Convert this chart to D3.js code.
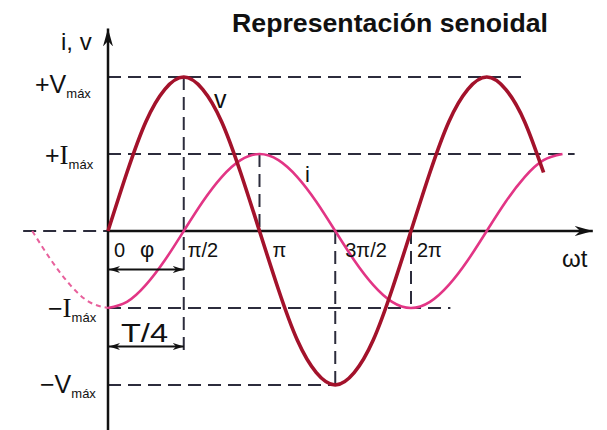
<!DOCTYPE html>
<html>
<head>
<meta charset="utf-8">
<script src="https://cdn.jsdelivr.net/npm/d3@7"></script>
<style>
  body { margin: 0; background: #fff; }
  svg { display: block; }
  text { font-family: "Liberation Sans", Arial, sans-serif; fill: #111; }
</style>
</head>
<body>
<div id="chart"></div>
<script>
// phase in multiples of pi, amplitude in units of Vmax
var vPhase = [0, 0.125, 0.25, 0.375, 0.5, 0.625, 0.75, 0.875, 1, 1.125, 1.25, 1.375,
  1.5, 1.625, 1.75, 1.875, 2, 2.125, 2.25, 2.375, 2.5, 2.625, 2.75, 2.875];
var vValues = [0, 0.38, 0.71, 0.92, 1, 0.92, 0.71, 0.38, 0, -0.38, -0.71, -0.92,
  -1, -0.92, -0.71, -0.38, 0, 0.38, 0.71, 0.92, 1, 0.92, 0.71, 0.38];

var iPhase = [0, 0.125, 0.25, 0.375, 0.5, 0.625, 0.75, 0.875, 1, 1.125, 1.25, 1.375,
  1.5, 1.625, 1.75, 1.875, 2, 2.125, 2.25, 2.375, 2.5, 2.625, 2.75, 2.875, 3];
var iValues = [-0.5, -0.46, -0.35, -0.19, 0, 0.19, 0.35, 0.46, 0.5, 0.46, 0.35, 0.19,
  0, -0.19, -0.35, -0.46, -0.5, -0.46, -0.35, -0.19, 0, 0.19, 0.35, 0.46, 0.5];

// current before t = 0 (dashed)
var iPrePhase = [-0.5, -0.375, -0.25, -0.125, 0];
var iPreValues = [0, -0.19, -0.35, -0.46, -0.5];

// horizontal guides: level and where they end (phase)
var hLevels = [1, 0.5, -0.5, -1];
var hEnds = [2.75, 3.08, 2.26, 1.5];

// vertical guides: phase, from level, to level
var vGuidePhase = [0.5, 1, 1.5, 2];
var vGuideFrom = [1, 0.5, 0, 0];
var vGuideTo = [-0.8, 0, -1, -0.5];

var tickLabels = ["0", "\u03c0/2", "\u03c0", "3\u03c0/2", "2\u03c0"];
var tickPhase = [0, 0.5, 1, 1.5, 2];

var levelMain = ["+V", "+I", "\u2212I", "\u2212V"];
var levelValues = [1, 0.5, -0.5, -1];

var margin = { top: 0, right: 0, bottom: 0, left: 0 };
var width = 607, height = 430;

var svg = d3.select("#chart").append("svg")
  .attr("width", width)
  .attr("height", height);

var defs = svg.append("defs");
function marker(id, len, half) {
  defs.append("marker")
    .attr("id", id)
    .attr("viewBox", "0 0 " + len + " " + (half * 2))
    .attr("refX", len).attr("refY", half)
    .attr("markerWidth", len).attr("markerHeight", half * 2)
    .attr("markerUnits", "userSpaceOnUse")
    .attr("orient", "auto-start-reverse")
    .append("path")
    .attr("d", "M0,0L" + len + "," + half + "L0," + (half * 2) + "L" + (len * 0.3) + "," + half + "Z")
    .attr("fill", "#111");
}
marker("axisArrow", 18, 5);
marker("smallArrow", 11, 3.5);

var x = d3.scaleLinear().domain([0, 2]).range([108, 411]);
var y = d3.scaleLinear().domain([-1, 1]).range([385, 77]);

var guideColor = "#2c2c3c";

// zero line dashed to the left
svg.append("line")
  .attr("x1", x(-0.56)).attr("x2", x(0))
  .attr("y1", y(0)).attr("y2", y(0))
  .attr("stroke", guideColor).attr("stroke-width", 2)
  .attr("stroke-dasharray", "13,7");

// horizontal guides
svg.selectAll(".hguide").data(hLevels).join("line")
  .attr("class", "hguide")
  .attr("x1", x(0)).attr("x2", (d, i) => x(hEnds[i]))
  .attr("y1", d => y(d)).attr("y2", d => y(d))
  .attr("stroke", guideColor).attr("stroke-width", 2)
  .attr("stroke-dasharray", "13,7");

// vertical guides
svg.selectAll(".vguide").data(vGuidePhase).join("line")
  .attr("class", "vguide")
  .attr("x1", d => x(d)).attr("x2", d => x(d))
  .attr("y1", (d, i) => y(vGuideFrom[i])).attr("y2", (d, i) => y(vGuideTo[i]))
  .attr("stroke", guideColor).attr("stroke-width", 2)
  .attr("stroke-dasharray", "13,7");

// axes
svg.append("line")
  .attr("x1", x(0)).attr("x2", x(3.2))
  .attr("y1", y(0)).attr("y2", y(0))
  .attr("stroke", "#111").attr("stroke-width", 2.5)
  .attr("marker-end", "url(#axisArrow)");
svg.append("line")
  .attr("x1", x(0)).attr("x2", x(0))
  .attr("y1", y(-1.3)).attr("y2", y(1.315))
  .attr("stroke", "#111").attr("stroke-width", 2.5)
  .attr("marker-end", "url(#axisArrow)");

// curves
var line = d3.line().curve(d3.curveNatural);

svg.append("path")
  .datum(iPrePhase.map((p, k) => [x(p), y(iPreValues[k])]))
  .attr("d", line)
  .attr("fill", "none").attr("stroke", "#e8609c").attr("stroke-width", 2)
  .attr("stroke-dasharray", "5,4");

svg.append("path")
  .datum(iPhase.map((p, k) => [x(p), y(iValues[k])]))
  .attr("d", line)
  .attr("fill", "none").attr("stroke", "#e23585").attr("stroke-width", 2.6);

svg.append("path")
  .datum(vPhase.map((p, k) => [x(p), y(vValues[k])]))
  .attr("d", line)
  .attr("fill", "none").attr("stroke", "#a3122b").attr("stroke-width", 3.6);

// phi and T/4 arrows
[y(-0.25), y(-0.75)].forEach(function (yy) {
  svg.append("line")
    .attr("x1", x(0) + 1).attr("x2", x(0.5))
    .attr("y1", yy).attr("y2", yy)
    .attr("stroke", "#111").attr("stroke-width", 1.8)
    .attr("marker-start", "url(#smallArrow)")
    .attr("marker-end", "url(#smallArrow)");
});

// tick labels on the wt axis
var tickDx = [6, 4, 13, 10, 6];
svg.selectAll(".tick-label").data(tickLabels).join("text")
  .attr("class", "tick-label")
  .attr("x", (d, i) => x(tickPhase[i]) + tickDx[i])
  .attr("y", y(0) + 26)
  .attr("font-size", 20)
  .text(d => d);

svg.append("text")
  .attr("x", 140).attr("y", y(0) + 26)
  .attr("font-size", 22)
  .text("\u03c6");

svg.append("text")
  .attr("x", 121).attr("y", 342)
  .attr("font-size", 26)
  .attr("textLength", 47).attr("lengthAdjust", "spacingAndGlyphs")
  .text("T/4");

svg.append("text")
  .attr("x", 562).attr("y", 267)
  .attr("font-size", 24)
  .text("\u03c9t");

// level labels
var levelX = [35, 45, 48, 40];
var levelDy = [16, 10, 9, 8];
svg.selectAll(".level-label").data(levelMain).join("text")
  .attr("class", "level-label")
  .attr("x", (d, i) => levelX[i])
  .attr("y", (d, i) => y(levelValues[i]) + levelDy[i])
  .attr("font-size", 25)
  .each(function (d, i) {
    var t = d3.select(this);
    t.append("tspan").text(d[0]);
    t.append("tspan")
      .style("font-family", d[1] === "I" ? "'Liberation Serif', serif" : null)
      .attr("font-size", d[1] === "I" ? 27 : 25)
      .text(d[1]);
    t.append("tspan").attr("font-size", 13).attr("dy", 5).text("m\u00e1x");
  });

svg.append("text")
  .attr("x", 61).attr("y", 50)
  .attr("font-size", 24)
  .text("i, v");

// curve labels
svg.append("text").attr("x", 214).attr("y", 108).attr("font-size", 25).text("v");
svg.append("text").attr("x", 305).attr("y", 182).attr("font-size", 22).text("i");

// title
svg.append("text")
  .attr("x", 232).attr("y", 32)
  .attr("font-size", 26).attr("font-weight", "bold")
  .attr("textLength", 316).attr("lengthAdjust", "spacingAndGlyphs")
  .text("Representaci\u00f3n senoidal");
</script>
</body>
</html>
